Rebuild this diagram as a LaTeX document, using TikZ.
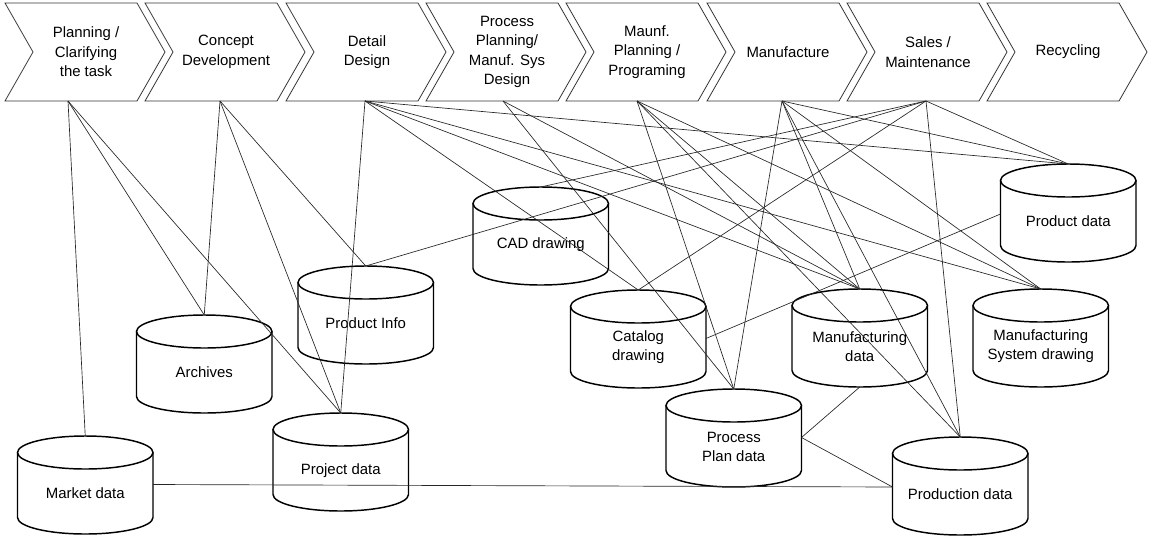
\documentclass[tikz,border=0pt]{standalone}
\usepackage{fontspec}
\setmainfont{Liberation Sans}

% one stage of the product life cycle: name, left x, label, x of its link point
\newcommand\stagebox[4]{%
  \draw[stage] (#2,3) -- ++(132,0) -- ++(28,49) -- ++(-28,49) -- ++(-132,0) -- ++(28,-49) -- cycle;
  \node[stagetext] (#1) at ({#2+81},52) {#3};
  \coordinate (#1-b) at (#4,101);
}
% one data store drawn as a cylinder: name, left x, top y, label
\newcommand\datastore[4]{%
  \draw[dbline] (#2,{#3+16.5}) -- (#2,{#3+81.5})
     arc[start angle=180,end angle=0,x radius=67.75,y radius=16.5]
     -- ({#2+135.5},{#3+16.5});
  \draw[dbline] ({#2+67.75},{#3+16.5}) ellipse[x radius=67.75,y radius=16.5];
  \node[dbtext] (#1) at ({#2+67.75},{#3+57.5}) {#4};
  \coordinate (#1-t) at ({#2+67.75},#3);
  \coordinate (#1-b) at ({#2+67.75},{#3+98});
  \coordinate (#1-l) at (#2,{#3+50});
  \coordinate (#1-r) at ({#2+135.5},{#3+48.5});
}

\begin{document}
\begin{tikzpicture}[x=0.75pt,y=-0.75pt,
  stage/.style={draw=black!80, line width=0.6pt, line join=miter},
  stagetext/.style={align=center, font=\fontsize{11.2}{14.6}\selectfont, inner sep=0pt},
  dbline/.style={draw=black, line width=1.1pt},
  dbtext/.style={align=center, font=\fontsize{11.2}{14.2}\selectfont, inner sep=0pt},
  link/.style={draw=black!85, line width=0.5pt}]
\useasboundingbox (0,0) rectangle (1153,536);

% life-cycle stages
\stagebox{st1}{5}{Planning /\\Clarifying\\the task}{68}
\stagebox{st2}{145}{Concept\\Development}{220}
\stagebox{st3}{286}{Detail\\Design}{365}
\stagebox{st4}{426}{Process\\Planning/\\Manuf. Sys\\Design}{503}
\stagebox{st5}{566}{Maunf.\\Planning /\\Programing}{637}
\stagebox{st6}{707}{Manufacture}{782}
\stagebox{st7}{847}{Sales /\\Maintenance}{926}
\stagebox{st8}{987}{Recycling}{1067}

% data stores
\datastore{mk}{17.5}{436}{Market data}
\datastore{ar}{136.5}{315}{Archives}
\datastore{pj}{273}{413}{Project data}
\datastore{pi}{298}{266}{Product Info}
\datastore{cad}{473}{187}{CAD drawing}
\datastore{cat}{570.5}{290}{Catalog\\drawing}
\datastore{pp}{666}{389}{Process\\Plan data}
\datastore{md}{792}{289}{Manufacturing\\data}
\datastore{ms}{973}{289}{Manufacturing\\System drawing}
\datastore{pr}{892.5}{437}{Production data}
\datastore{pd}{1000.5}{164}{Product data}

% which stage uses which data
\draw[link] (st1-b) -- (mk-t);
\draw[link] (st1-b) -- (ar-t);
\draw[link] (st1-b) -- (pj-t);
\draw[link] (st2-b) -- (ar-t);
\draw[link] (st2-b) -- (pj-t);
\draw[link] (st2-b) -- (pi-t);
\draw[link] (st3-b) -- (pj-t);
\draw[link] (st3-b) -- (cat-t);
\draw[link] (st3-b) -- (md-t);
\draw[link] (st3-b) -- (ms-t);
\draw[link] (st3-b) -- (pd-t);
\draw[link] (st4-b) -- (pp-t);
\draw[link] (st4-b) -- (md-t);
\draw[link] (st5-b) -- (pp-t);
\draw[link] (st5-b) -- (md-t);
\draw[link] (st5-b) -- (ms-t);
\draw[link] (st5-b) -- (pr-t);
\draw[link] (st6-b) -- (pp-t);
\draw[link] (st6-b) -- (md-t);
\draw[link] (st6-b) -- (ms-t);
\draw[link] (st6-b) -- (pr-t);
\draw[link] (st6-b) -- (pd-t);
\draw[link] (st7-b) -- (pi-t);
\draw[link] (st7-b) -- (cad-t);
\draw[link] (st7-b) -- (cat-t);
\draw[link] (st7-b) -- (pr-t);
\draw[link] (st7-b) -- (pd-t);

% links between data stores
\draw[link] (cat-r) -- (pd-l);
\draw[link] (pp-r) -- (md-b);
\draw[link] (pp-r) -- (pr-l);
\draw[link] (mk-r) -- (pr-l);
\end{tikzpicture}
\end{document}
